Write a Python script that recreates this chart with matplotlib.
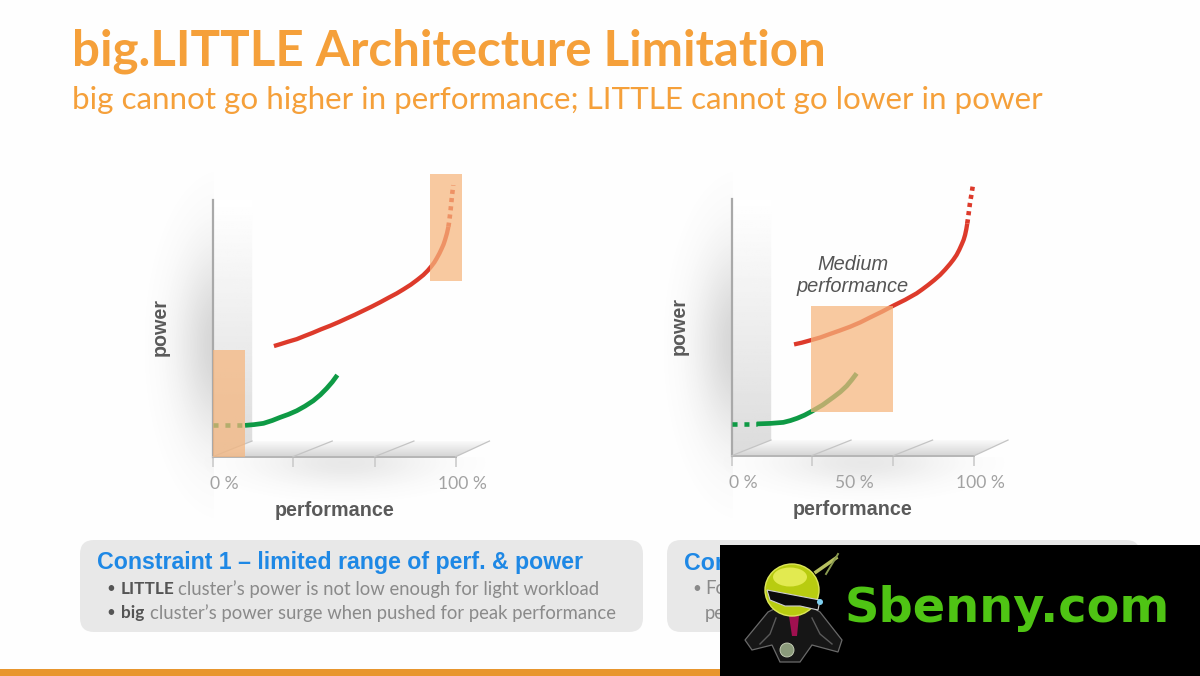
import numpy as np
import matplotlib
matplotlib.use("Agg")
import matplotlib.pyplot as plt
from matplotlib.patches import Rectangle, FancyBboxPatch, Polygon, Circle, Ellipse

# ---- data (performance %, power %)
left_red_x = [25.2, 28, 31, 34.6, 38, 41, 44.5, 48.3, 52, 55, 58.5, 62.0, 65.5, 69, 72.5, 75.7, 78.5, 81.5, 84.2, 86.7, 88.5, 90, 91.2, 92.2, 93.3, 94.2, 95, 95.6, 96.4, 97.0]
left_red_y = [43.1, 43.9, 44.8, 45.8, 47.1, 48.2, 49.6, 51.0, 52.5, 53.8, 55.3, 56.9, 58.5, 60.2, 62.0, 63.6, 65.2, 67.0, 68.9, 70.8, 72.5, 74.2, 75.7, 77.3, 79.2, 81.0, 82.7, 84.4, 87.0, 89.6]
left_red_dot_x = [97.0, 97.4, 97.9, 98.5, 99.0]
left_red_dot_y = [89.6, 92.2, 96.1, 101.9, 105.8]
left_green_x = [13.3, 17, 20.9, 24.5, 27.7, 31.2, 34.6, 38, 41.4, 44.3, 46.9, 49.2, 51.3]
left_green_y = [12.2, 12.5, 13.0, 14.1, 15.3, 16.5, 17.9, 19.7, 21.8, 24.1, 26.6, 29.1, 31.8]
left_green_dash_x = [0, 13.3]
left_green_dash_y = [12.2, 12.2]

right_red_x = [25.7, 29, 32.8, 36.5, 40, 44.5, 48.8, 53, 57, 62, 66.6, 71.5, 76.2, 78.6, 81, 83.5, 85.9, 88, 90, 91.4, 92.7, 93.8, 94.8, 95.6, 96.2, 96.7, 97.1]
right_red_y = [43.4, 44.1, 45.1, 46.1, 47.3, 48.8, 50.3, 52.0, 53.9, 56.2, 58.5, 60.8, 63.3, 64.9, 66.6, 68.5, 70.5, 72.6, 74.8, 76.5, 78.3, 80.3, 82.4, 84.2, 86.1, 88.3, 90.6]
right_red_dot_x = [97.1, 97.5, 98.2, 98.9, 99.5]
right_red_dot_y = [90.6, 93.2, 98.4, 102.3, 106.0]
right_green_x = [10.3, 16, 21.3, 24.2, 27, 30, 32.8, 37.5, 41.9, 44.8, 47.4, 49.5, 51.5]
right_green_y = [12.4, 12.6, 13.0, 13.7, 14.6, 15.8, 17.2, 19.8, 22.8, 24.9, 27.2, 29.6, 32.1]
right_green_dash_x = [0, 10.3]
right_green_dash_y = [12.4, 12.4]

left_regions = [(0, 13.3, 0, 41.5), (89.4, 102.7, 68.6, 110.2)]
right_regions = [(32.8, 66.6, 16.9, 58.5)]
tick_positions = [0, 33, 66.6, 100]
left_tick_labels = {0: "0 %", 100: "100 %"}
right_tick_labels = {0: "0 %", 50: "50 %", 100: "100 %"}

W, H = 1200, 676
fig = plt.figure(figsize=(12, 6.76), dpi=100, facecolor="#FEFEFE")
bg = fig.add_axes([0, 0, 1, 1], zorder=0)
bg.set_xlim(0, W); bg.set_ylim(H, 0); bg.axis("off")

def soft(cx, cy, sx, sy, a, x0, x1, y0, y1, z=1):
    xs = np.linspace(x0, x1, 120); ys = np.linspace(y0, y1, 120)
    X, Y = np.meshgrid(xs, ys)
    A = a * np.exp(-((X - cx) / sx) ** 2 - ((Y - cy) / sy) ** 2)
    A = np.clip(A - 0.006, 0, 1)
    img = np.zeros((120, 120, 4)); img[..., :3] = 0.45; img[..., 3] = A
    bg.imshow(img, extent=(x0, x1, y1, y0), aspect="auto", zorder=z, interpolation="bilinear")

def grad(poly, top, bottom, z=2):
    x = [p[0] for p in poly]; y = [p[1] for p in poly]
    g = np.linspace(top, bottom, 128)[:, None]
    im = bg.imshow(g, cmap="gray", vmin=0, vmax=1, aspect="auto", zorder=z,
                   extent=(min(x), max(x), max(y), min(y)))
    pg = Polygon(poly, closed=True, transform=bg.transData, fc="none", ec="none")
    bg.add_patch(pg); im.set_clip_path(pg)

def chart(x0, x1, ybase, ytop, red, reddot, green, dash, regions, labels, red_c, grn_c):
    dx = x0 - 212.7
    soft(222 + dx, 345, 42, 95, 0.30, 90 + dx, 214 + dx, 120, 570)
    soft(345 + dx, 462, 85, 24, 0.16, 120 + dx, 560 + dx, 457, 560)
    grad([(x0, ytop), (x0 + 39.5, ytop), (x0 + 39.5, ybase - 15.5), (x0, ybase)], 1.0, 0.86)
    grad([(x0, ybase), (x1, ybase), (x1 + 33.5, ybase - 15.5), (x0 + 39.5, ybase - 15.5)], 0.98, 0.83)
    ax = fig.add_axes([x0 / W, 1 - ybase / H, (x1 - x0) / W, (ybase - ytop) / H], zorder=2)
    ax.patch.set_alpha(0)
    ax.set_xlim(0, 100); ax.set_ylim(0, 100)
    for s in ("top", "right"):
        ax.spines[s].set_visible(False)
    ax.spines["left"].set_color("#A9A9A9"); ax.spines["left"].set_linewidth(1.6)
    ax.spines["bottom"].set_color("#B5B5B5"); ax.spines["bottom"].set_linewidth(1.4)
    ax.set_yticks([])
    ax.set_xticks(tick_positions); ax.set_xticklabels([])
    ax.tick_params(axis="x", length=7, width=1.1, color="#C8C8C8")
    for t in tick_positions[:-1]:
        ax.plot([t, t + 16.2], [0, 6.1], color="#C4C4C4", lw=0.9, clip_on=False, zorder=3)
    ax.plot([100, 113.9], [0, 6.1], color="#C4C4C4", lw=0.9, clip_on=False, zorder=3)
    ax.plot(*red, color=red_c, lw=3.1, clip_on=False, zorder=4, solid_capstyle="butt")
    ax.plot(*reddot, color=red_c, lw=3.3, ls=(0, (0.9, 0.9)), clip_on=False, zorder=4)
    ax.plot(*green, color=grn_c, lw=3.4, clip_on=False, zorder=4, solid_capstyle="butt")
    ax.plot(*dash, color=grn_c, lw=3.3, ls=(0, (1.1, 1.5)), clip_on=False, zorder=4)
    for a, b, c, d in regions:
        ax.add_patch(Rectangle((a, c), b - a, d - c, fc="#F6B57C", ec="none", alpha=0.72,
                               clip_on=False, zorder=5))
    for v, s in labels.items():
        shift = 8.5 if v == 0 else (4.5 if v == 100 else 1)
        ax.annotate(s, (v, 0), xytext=(shift, -19.5), textcoords="offset points", ha="center",
                    va="center", family="Lato", fontsize=12.6, color="#A2A2A2",
                    annotation_clip=False)
    ax.annotate("performance", (50, 0), xytext=(0, -39), textcoords="offset points", ha="center",
                va="center", family="Liberation Sans", weight="bold", fontsize=14.2,
                color="#5A5A5A", annotation_clip=False)
    ax.annotate("power", (0, 50), xytext=(-38, 1), textcoords="offset points", ha="center",
                va="center", rotation=90, family="Liberation Sans", weight="bold", fontsize=14.2,
                color="#5A5A5A", annotation_clip=False)
    return ax

RED = "#DD3A2B"; GRN = "#0E9A45"
chart(212.7, 455.7, 456.7, 200, (left_red_x, left_red_y), (left_red_dot_x, left_red_dot_y),
      (left_green_x, left_green_y), (left_green_dash_x, left_green_dash_y), left_regions,
      left_tick_labels, RED, GRN)
axr = chart(731.7, 974.3, 455.7, 199.3, (right_red_x, right_red_y), (right_red_dot_x, right_red_dot_y),
      (right_green_x, right_green_y), (right_green_dash_x, right_green_dash_y), right_regions,
      right_tick_labels, RED, GRN)
fig.text(852.5 / W, 1 - 276 / H, "Medium\nperformance", ha="center", va="center", style="italic",
         family="Liberation Sans", fontsize=14.4, color="#555555", linespacing=1.2, zorder=6)

# titles
ORANGE = "#F5A03A"
fig.text(72 / W, 1 - 66 / H, "big.LITTLE Architecture Limitation", family="Lato", weight="bold",
         fontsize=35.5, color=ORANGE, va="baseline")
fig.text(72 / W, 1 - 109 / H, "big cannot go higher in performance; LITTLE cannot go lower in power",
         family="Lato", fontsize=22.6, color=ORANGE, va="baseline")

# constraint boxes
for x0, x1 in ((80, 643), (667, 1140)):
    bg.add_patch(FancyBboxPatch((x0 + 14, 554), x1 - x0 - 28, 64, boxstyle="round,pad=14,rounding_size=14",
                                fc="#E8E8E8", ec="none", zorder=1))
BLUE = "#1E88E5"; GT = "#8A8A8A"; DK = "#555555"
bg.text(97, 563, "Constraint 1 – limited range of perf. & power", family="Liberation Sans",
        weight="bold", fontsize=16.7, color=BLUE, va="center", zorder=3)
bg.text(684, 563, "Con", family="Liberation Sans", weight="bold", fontsize=16.7, color=BLUE,
        va="center", zorder=3)
for y, bold, xb, rest, xr in ((589, "LITTLE", 120.5, "cluster’s power is not low enough for light workload", 178),
                              (613, "big", 120.5, "cluster’s power surge when pushed for peak performance", 150)):
    bg.text(106, y, "•", fontsize=11, color=DK, va="center", family="Lato", zorder=3)
    bg.text(xb, y, bold, family="Lato", weight="bold", fontsize=12.4, color=DK, va="center", zorder=3)
    bg.text(xr, y, rest, family="Lato", fontsize=13.35, color=GT, va="center", zorder=3)
bg.text(692, 589, "•", fontsize=11, color=GT, va="center", family="Lato", zorder=3)
bg.text(705, 589, "Fo", family="Lato", fontsize=13.35, color=GT, va="center", zorder=3)
bg.text(705, 613, "pe", family="Lato", fontsize=13.35, color=GT, va="center", zorder=3)

# footer bar
bg.add_patch(Rectangle((0, 669), W, 7, fc="#E8962E", ec="none", zorder=3))

# watermark block
ov = fig.add_axes([0, 0, 1, 1], zorder=10)
ov.set_xlim(0, W); ov.set_ylim(H, 0); ov.axis("off"); ov.patch.set_alpha(0)
ov.add_patch(Rectangle((720, 545), 480, 131, fc="black", ec="none"))
ov.add_patch(Polygon([(768, 612), (745, 640), (752, 650), (772, 645), (780, 662), (800, 662), (812, 645),
                      (838, 652), (842, 640), (820, 612), (808, 605), (782, 605)],
                     fc="#161616", ec="#6A6A6A", lw=0.9))
ov.plot([776, 770, 760], [618, 634, 644], color="#5A5A5A", lw=1)
ov.plot([812, 820, 832], [618, 634, 644], color="#5A5A5A", lw=1)
ov.add_patch(Polygon([(789, 616), (799, 616), (797, 636), (792, 636)], fc="#A01050", ec="none"))
ov.add_patch(Circle((787, 650), 7, fc="#8A9A7A", ec="#D0D8C0", lw=0.6))
ov.add_patch(Ellipse((792, 590), 54, 52, fc="#B8CC10", ec="#DDE65A", lw=1))
ov.add_patch(Ellipse((790, 577), 34, 19, fc="#E2EA50", ec="none"))
ov.add_patch(Polygon([(767, 590), (820, 600), (818, 610), (800, 606), (785, 606), (770, 600)],
                     fc="#0A0A0A", ec="#CFCFCF", lw=0.8))
ov.add_patch(Circle((820, 602), 3, fc="#7FD0F0", ec="none"))
ov.plot([816, 836], [572, 558], color="#B7C060", lw=2.5)
ov.plot([826, 838], [574, 554], color="#8A9A50", lw=1.4)
ov.text(845, 622, "Sbenny.com", family="DejaVu Sans", weight="bold", fontsize=34.5, color="#4FC414",
        va="baseline", ha="left")

fig.savefig("out.png", dpi=100, facecolor=fig.get_facecolor())
